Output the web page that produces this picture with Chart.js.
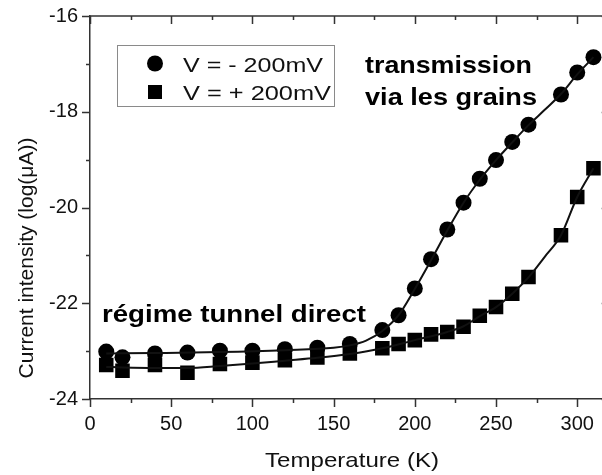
<!DOCTYPE html>
<html><head><meta charset="utf-8">
<script src="https://cdn.jsdelivr.net/npm/chart.js@4.4.1/dist/chart.umd.min.js"></script>
<style>
html,body{margin:0;padding:0;background:#fff;overflow:hidden;}
#wrap{width:602px;height:475px;overflow:hidden;position:relative;background:#fff;}
canvas{display:block;}
</style></head><body>
<div id="wrap"><canvas id="c" width="620" height="475"></canvas></div>
<script>
// measured points
const tempNeg = [10,20,40,60,80,100,120,140,160,180,190,200,210,220,230,240,250,260,270,290,300,310];
const currNeg = [-23.01,-23.13,-23.05,-23.03,-22.99,-22.99,-22.96,-22.93,-22.85,-22.56,-22.25,-21.69,-21.08,-20.46,-19.90,-19.40,-19.01,-18.63,-18.27,-17.64,-17.18,-16.86];
const tempPos = [10,20,40,60,80,100,120,140,160,180,190,200,210,220,230,240,250,260,270,290,300,310];
const currPos = [-23.29,-23.41,-23.29,-23.45,-23.27,-23.24,-23.19,-23.13,-23.05,-22.94,-22.85,-22.77,-22.65,-22.60,-22.49,-22.26,-22.08,-21.80,-21.45,-20.58,-19.78,-19.18];
// fitted curves
const fitNegT = [10,40,80,120,150,160,170,180,190,200,210,220,230,240,250,260,270,280,290,300,310];
const fitNegV = [-23.05,-23.04,-23.02,-22.98,-22.93,-22.88,-22.78,-22.58,-22.25,-21.70,-21.10,-20.48,-19.90,-19.42,-19.01,-18.64,-18.28,-17.96,-17.63,-17.22,-16.86];
const fitPosT = [10,20,40,60,80,100,120,140,160,180,200,220,230,240,250,260,270,280,290,300,310];
const fitPosV = [-23.33,-23.34,-23.35,-23.35,-23.31,-23.26,-23.20,-23.14,-23.06,-22.94,-22.77,-22.60,-22.48,-22.27,-22.08,-21.80,-21.46,-21.03,-20.58,-19.78,-19.18];
// ticks
const xTickMarks = [0,25,50,75,100,125,150,175,200,225,250,275,300];
const xTickLabels = [0,50,100,150,200,250,300];
const yTickMarks = [-24,-23,-22,-21,-20,-19,-18,-17,-16];
const yTickLabels = [-24,-22,-20,-18,-16];
const legendLabels = ['V = - 200mV','V = + 200mV'];
const xTitle = 'Temperature (K)';
const yTitle = 'Current intensity (log(\u03bcA))';
const notes = ['transmission','via les grains','r\u00e9gime tunnel direct'];

const FONT = '"Liberation Sans", Arial, Helvetica, sans-serif';
const toXY = (xs, ys) => xs.map((x, i) => ({x: x, y: ys[i]}));

function stretchText(ctx, txt, x, y, font, w) {
  ctx.font = font;
  const nat = ctx.measureText(txt).width;
  ctx.save();
  ctx.translate(x, y);
  ctx.scale(w / nat, 1);
  ctx.textAlign = 'left';
  ctx.textBaseline = 'alphabetic';
  ctx.fillText(txt, 0, 0);
  ctx.restore();
}

function zeroPad(s) { s.paddingTop = 0; s.paddingBottom = 0; s.paddingLeft = 0; s.paddingRight = 0; }

const deco = {
  id: 'deco',
  afterDraw(chart) {
    const ctx = chart.ctx, a = chart.chartArea, xs = chart.scales.x, ys = chart.scales.y;
    ctx.save();
    ctx.strokeStyle = '#333';
    ctx.lineWidth = 1.5;
    ctx.beginPath();
    ctx.moveTo(a.left, a.top); ctx.lineTo(a.right, a.top);
    ctx.moveTo(a.right, a.top); ctx.lineTo(a.right, a.bottom);
    xTickMarks.forEach(v => {
      const L = xTickLabels.includes(v) ? 8 : 4;
      const p = Math.round(xs.getPixelForValue(v)) + 0.5;
      ctx.moveTo(p, a.bottom); ctx.lineTo(p, a.bottom + L);
      ctx.moveTo(p, a.top); ctx.lineTo(p, a.top + L);
    });
    yTickMarks.forEach(v => {
      const L = yTickLabels.includes(v) ? 8 : 4;
      const p = Math.round(ys.getPixelForValue(v)) + 0.5;
      ctx.moveTo(a.left - L, p); ctx.lineTo(a.left, p);
      ctx.moveTo(a.right, p); ctx.lineTo(a.right - L, p);
    });
    ctx.stroke();

    // legend
    ctx.strokeStyle = '#8a8a8a';
    ctx.lineWidth = 1;
    ctx.strokeRect(117.5, 45.5, 217, 61);
    ctx.fillStyle = '#000';
    ctx.beginPath(); ctx.arc(155, 63.5, 8, 0, Math.PI * 2); ctx.fill();
    ctx.fillRect(148, 85, 14, 14);
    ctx.fillStyle = '#111';
    stretchText(ctx, legendLabels[0], 183, 72, '20px ' + FONT, 140);
    stretchText(ctx, legendLabels[1], 183, 100, '20px ' + FONT, 148);

    // annotations
    ctx.fillStyle = '#000';
    stretchText(ctx, notes[0], 365, 73, 'bold 24px ' + FONT, 167);
    stretchText(ctx, notes[1], 365, 105, 'bold 24px ' + FONT, 172);
    stretchText(ctx, notes[2], 102, 322, 'bold 24px ' + FONT, 264);

    // axis titles
    ctx.fillStyle = '#111';
    stretchText(ctx, xTitle, 352 - 174 / 2, 467, '21px ' + FONT, 174);
    ctx.save();
    ctx.translate(33, 258);
    ctx.rotate(-Math.PI / 2);
    ctx.font = '21px ' + FONT;
    ctx.textAlign = 'center';
    ctx.textBaseline = 'alphabetic';
    ctx.fillText(yTitle, 0, 0);
    ctx.restore();
    ctx.restore();
  }
};

new Chart(document.getElementById('c'), {
  type: 'scatter',
  data: {
    datasets: [
      {data: toXY(fitNegT, fitNegV), showLine: true, pointRadius: 0, borderColor: '#111', borderWidth: 2, tension: 0.4, cubicInterpolationMode: 'monotone'},
      {data: toXY(fitPosT, fitPosV), showLine: true, pointRadius: 0, borderColor: '#111', borderWidth: 2, tension: 0.4, cubicInterpolationMode: 'monotone'},
      {label: legendLabels[0], data: toXY(tempNeg, currNeg), showLine: false, pointStyle: 'circle', pointRadius: 8, backgroundColor: '#000', borderWidth: 0},
      {label: legendLabels[1], data: toXY(tempPos, currPos), showLine: false, pointStyle: 'rect', pointRadius: 10.3, backgroundColor: '#000', borderWidth: 0}
    ]
  },
  options: {
    responsive: false,
    devicePixelRatio: 1,
    animation: false,
    layout: {padding: {left: 0, top: 16, right: 10, bottom: 0}},
    plugins: {legend: {display: false}, tooltip: {enabled: false}},
    scales: {
      x: {
        type: 'linear', min: 0, max: 320,
        afterBuildTicks: s => { s.ticks = xTickMarks.map(v => ({value: v})); },
        afterFit: s => { s.height = 76; zeroPad(s); },
        grid: {display: false, drawTicks: false},
        border: {display: true, color: '#333', width: 1.5},
        ticks: {
          autoSkip: false, maxRotation: 0, minRotation: 0, padding: 13,
          color: '#111', font: {family: FONT, size: 20},
          callback: v => xTickLabels.includes(v) ? String(v) : ''
        }
      },
      y: {
        type: 'linear', min: -24, max: -16,
        afterBuildTicks: s => { s.ticks = yTickMarks.map(v => ({value: v})); },
        afterFit: s => { s.width = 90; zeroPad(s); },
        grid: {display: false, drawTicks: false},
        border: {display: true, color: '#333', width: 1.5},
        ticks: {
          autoSkip: false, padding: 12,
          color: '#111', font: {family: FONT, size: 20},
          callback: v => yTickLabels.includes(v) ? String(v) : ''
        }
      }
    }
  },
  plugins: [deco]
});
</script>
</body></html>
